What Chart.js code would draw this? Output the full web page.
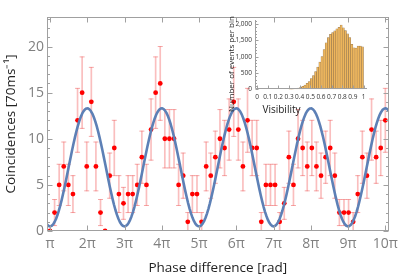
<!DOCTYPE html>
<html><head><meta charset="utf-8">
<script src="https://cdn.jsdelivr.net/npm/chart.js@4/dist/chart.umd.min.js"></script>
<style>
html,body{margin:0;padding:0;background:#fff;overflow:hidden}
#wrap{position:relative;width:403px;height:279px}
#main{position:absolute;left:0;top:0;width:403px;height:279px}
#inset{position:absolute;left:200px;top:10px;width:180px;height:110px}
</style></head>
<body><div id="wrap"><canvas id="main" width="403" height="279"></canvas><canvas id="inset" width="180" height="110"></canvas></div>
<script>
// ---- main panel data ----
const counts = [0,2,5,7,5,4,12,15,7,14, 7,2,0,6,9,4,3,4,4,5, 8,5,11,15,16,10,10,10,5,6,
                1,4,4,1,7,6,8,10,9,11, 14,11,7,12,9,9,1,5,5,5, 1,3,8,5,10,9,7,9,7,6,
                8,9,6,2,2,2,1,4,8,6, 11,8,9,12];
const phaseStartPi = 1;     // first sample at π
const phaseEndPi = 10;      // last sample at 10π
const fitMean = 6.9;        // fitted curve: mean + amp·cos(φ)
const fitAmp = 6.4;
const xTickMultiples = [1,2,3,4,5,6,7,8,9,10];
const yTickValues = [0,5,10,15,20];

// ---- inset histogram data ----
const visBinCenters = [0.31,0.33,0.35,0.37,0.39,0.41,0.43,0.45,0.47,0.49,0.51,0.53,0.55,0.57,0.59,
                       0.61,0.63,0.65,0.67,0.69,0.71,0.73,0.75,0.77,0.79,0.81,0.83,0.85,0.87,0.89,
                       0.91,0.93,0.95,0.97,0.99];
const visCounts = [4,8,15,25,40,60,90,130,180,240,330,420,540,680,830,
                   1000,1220,1420,1580,1680,1740,1790,1850,1900,1970,1880,1800,1700,1580,1380,
                   1270,1260,1320,1320,1300];
const visXTicks = [0,0.1,0.2,0.3,0.4,0.5,0.6,0.7,0.8,0.9,1];
const visYTicks = [0,500,1000,1500,2000];

const PI = Math.PI;
const FONT = 'Open Sans';
const phases = counts.map((_, i) => PI * (phaseStartPi + i * (phaseEndPi - phaseStartPi) / (counts.length - 1)));
const errs = counts.map(c => Math.sqrt(c)); // Poisson √N error bars

const barData = [], capData = [], pointData = [];
phases.forEach((x, i) => {
  pointData.push({x, y: counts[i]});
  if (counts[i] > 0) {
    barData.push({x, y: [counts[i] - errs[i], counts[i] + errs[i]]});
    capData.push({x, y: counts[i] + errs[i]});
    capData.push({x, y: counts[i] - errs[i]});
  }
});
const fitData = [];
for (let k = 0; k <= 240; k++) {
  const x = PI * (0.85 + k * (10.2 - 0.85) / 240);
  fitData.push({x, y: fitMean + fitAmp * Math.cos(x)});
}

const framePlugin = {
  id: 'frameTicks',
  afterDatasetsDraw(chart) {
    const {ctx, chartArea: a, scales: {x, y}} = chart;
    ctx.save();
    ctx.strokeStyle = '#a0a0a0';
    ctx.lineWidth = 1;
    const L = Math.round(a.left) + 0.5, R = Math.round(a.right) - 0.5;
    const T = Math.round(a.top) + 0.5, B = Math.round(a.bottom) - 0.5;
    ctx.strokeRect(L, T, R - L, B - T);
    ctx.beginPath();
    for (let v = 0; v <= 23; v++) {
      const py = Math.round(y.getPixelForValue(v)) + 0.5;
      const len = v % 5 === 0 ? 5 : 2.5;
      ctx.moveTo(L, py); ctx.lineTo(L + len, py);
      ctx.moveTo(R, py); ctx.lineTo(R - len, py);
    }
    xTickMultiples.forEach(k => {
      const px = Math.round(x.getPixelForValue(k * PI)) + 0.5;
      ctx.moveTo(px, B); ctx.lineTo(px, B - 5);
      ctx.moveTo(px, T); ctx.lineTo(px, T + 5);
    });
    ctx.stroke();
    ctx.restore();
  }
};

new Chart(document.getElementById('main'), {
  type: 'line',
  data: { datasets: [
    { type: 'bar', data: barData, backgroundColor: 'rgba(245,125,125,0.5)', barThickness: 1, grouped: false, order: 4 },
    { type: 'line', showLine: false, data: capData, pointStyle: 'line', pointRadius: 2.5, pointBorderColor: 'rgba(240,110,110,0.6)', pointBorderWidth: 1, order: 3 },
    { type: 'line', showLine: false, data: pointData, pointRadius: 2.4, pointBackgroundColor: '#ff0000', pointBorderWidth: 0, order: 2 },
    { type: 'line', data: fitData, showLine: true, borderColor: '#5d80b6', borderWidth: 2.6, borderJoinStyle: 'round', borderCapStyle: 'round',
      pointRadius: 0, tension: 0, fill: false, order: 1 }
  ]},
  options: {
    responsive: false, animation: false, events: [], devicePixelRatio: 1,
    layout: { padding: { top: 17, right: 11, left: 0, bottom: 0 } },
    plugins: { legend: { display: false }, tooltip: { enabled: false } },
    scales: {
      x: {
        type: 'linear', min: 0.92 * PI, max: 10.09 * PI, offset: false,
        afterBuildTicks: s => { s.ticks = xTickMultiples.map(k => ({value: k * PI})); },
        afterFit: s => { s.height = 48; },
        grid: { display: false, drawTicks: false, offset: false }, border: { display: false },
        ticks: { callback: v => { const k = Math.round(v / PI); return k === 1 ? 'π' : k + 'π'; },
                 color: '#808080', font: { family: FONT, size: 14 }, padding: 5, maxRotation: 0, autoSkip: false },
        title: { display: true, text: 'Phase difference [rad]', color: '#222', font: { family: FONT, size: 13.5 }, padding: { top: 0, bottom: 3 } }
      },
      y: {
        type: 'linear', min: 0, max: 23.2,
        afterBuildTicks: s => { s.ticks = yTickValues.map(v => ({value: v})); },
        afterFit: s => { s.width = 47; },
        grid: { display: false, drawTicks: false }, border: { display: false },
        ticks: { color: '#808080', font: { family: FONT, size: 14 }, padding: 3 },
        title: { display: true, text: 'Coincidences [70ms⁻¹]', color: '#222', font: { family: FONT, size: 13.5 }, padding: { top: 3, bottom: 0 } }
      }
    }
  },
  plugins: [framePlugin]
});

// ---- inset ----
const insetPlugin = {
  id: 'insetAxes',
  afterDatasetsDraw(chart) {
    const {ctx, chartArea: a, scales: {x, y}} = chart;
    ctx.save();
    ctx.strokeStyle = '#a0a0a0';
    ctx.lineWidth = 1;
    const L = Math.round(a.left) + 0.5, B = Math.round(a.bottom) - 0.5, T = Math.round(a.top);
    ctx.beginPath();
    ctx.moveTo(L, T); ctx.lineTo(L, B); ctx.lineTo(Math.round(a.right), B);
    for (let v = 0; v <= 2100; v += 100) {
      const py = Math.round(y.getPixelForValue(v)) + 0.5;
      const len = v % 500 === 0 ? 3 : 1.5;
      ctx.moveTo(L, py); ctx.lineTo(L + len, py);
    }
    visXTicks.forEach(v => {
      const px = Math.round(x.getPixelForValue(v)) + 0.5;
      ctx.moveTo(px, B); ctx.lineTo(px, B - 3);
    });
    ctx.stroke();
    // axis titles of the inset
    ctx.fillStyle = '#222';
    ctx.textAlign = 'center';
    ctx.textBaseline = 'middle';
    ctx.font = '10px "Open Sans"';
    ctx.fillText('Visibility', 81.5, 100);
    ctx.translate(31.5, 54);
    ctx.rotate(-Math.PI / 2);
    ctx.font = '8px "Open Sans"';
    ctx.fillText('Number of events per bin', 0, 0);
    ctx.restore();
  }
};

new Chart(document.getElementById('inset'), {
  type: 'bar',
  data: { datasets: [{
    data: visBinCenters.map((v, i) => ({x: v, y: visCounts[i]})),
    backgroundColor: 'rgb(238,182,92)', borderColor: 'rgba(130,100,60,0.85)', borderWidth: 0.5,
    barPercentage: 1, categoryPercentage: 1
  }]},
  options: {
    responsive: false, animation: false, events: [], devicePixelRatio: 1,
    layout: { padding: { top: 10, right: 13.3, left: 0, bottom: 0 } },
    plugins: { legend: { display: false }, tooltip: { enabled: false } },
    scales: {
      x: {
        type: 'linear', min: -0.02, max: 1.03, offset: false,
        afterBuildTicks: s => { s.ticks = visXTicks.map(v => ({value: v})); },
        afterFit: s => { s.height = 30.7; },
        grid: { display: false, drawTicks: false, offset: false }, border: { display: false },
        ticks: { callback: v => String(Math.round(v * 10) / 10), color: '#333', font: { family: FONT, size: 6.5 }, padding: 3.5, maxRotation: 0, autoSkip: false },
        title: { display: false }
      },
      y: {
        type: 'linear', min: 0, max: 2122,
        afterBuildTicks: s => { s.ticks = visYTicks.map(v => ({value: v})); },
        afterFit: s => { s.width = 55; },
        grid: { display: false, drawTicks: false }, border: { display: false },
        ticks: { color: '#333', font: { family: FONT, size: 6.5 }, padding: 3 },
        title: { display: false }
      }
    }
  },
  plugins: [insetPlugin]
});
</script>
</body></html>
